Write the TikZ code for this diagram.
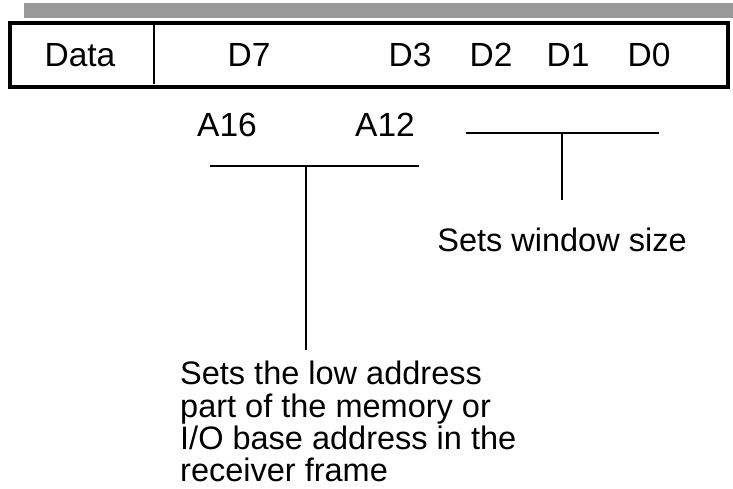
\documentclass[tikz,border=0pt]{standalone}
\usepackage{fontspec}
\setmainfont{Liberation Sans}
\definecolor{barGray}{RGB}{153,153,153}
\begin{document}
\begin{tikzpicture}[x=1pt,y=-1pt,
  lbl/.style={inner sep=0pt,anchor=base,font=\fontsize{33.5}{34}\selectfont},
  brk/.style={line width=1.8pt,black}]
\useasboundingbox (0,0) rectangle (733,488);
% gray bar
\fill[barGray] (24,3) rectangle (733,18);
% register box
\node[draw=black,line width=4pt,fill=white,minimum width=718pt,minimum height=64pt,inner sep=0pt,anchor=north west] (box) at (8,21) {};
\draw[line width=2pt] (154,21) -- (154,84);
% labels in box
\node[lbl] (data) at (80,66) {Data};
\node[lbl] (d7) at (249,66) {D7};
\node[lbl] (d3) at (410,66) {D3};
\node[lbl] (d2) at (491,66) {D2};
\node[lbl] (d1) at (568,66) {D1};
\node[lbl] (d0) at (649,66) {D0};
% address labels
\node[lbl] (a16) at (227,136) {A16};
\node[lbl] (a12) at (385,136) {A12};
% left bracket
\coordinate (bl) at (210,166);
\coordinate (br) at (419,166);
\coordinate (bm) at (306,166);
\coordinate (be) at (306,350);
\draw[brk] (bl) -- (br);
\draw[brk] (bm) -- (be);
% right bracket
\coordinate (rl) at (466,133);
\coordinate (rr) at (659,133);
\coordinate (rm) at (562,133);
\coordinate (re) at (562,200);
\draw[brk] (rl) -- (rr);
\draw[brk] (rm) -- (re);
% descriptions
\node[lbl,font=\fontsize{32.5}{34}\selectfont] (win) at (562,251) {Sets window size};
\node[inner sep=0pt,anchor=north west,align=left,font=\fontsize{32.5}{32.3}\selectfont] (low) at (180,361)
  {Sets the low address\\part of the memory or\\I/O base address in the\\receiver frame};
\end{tikzpicture}
\end{document}
